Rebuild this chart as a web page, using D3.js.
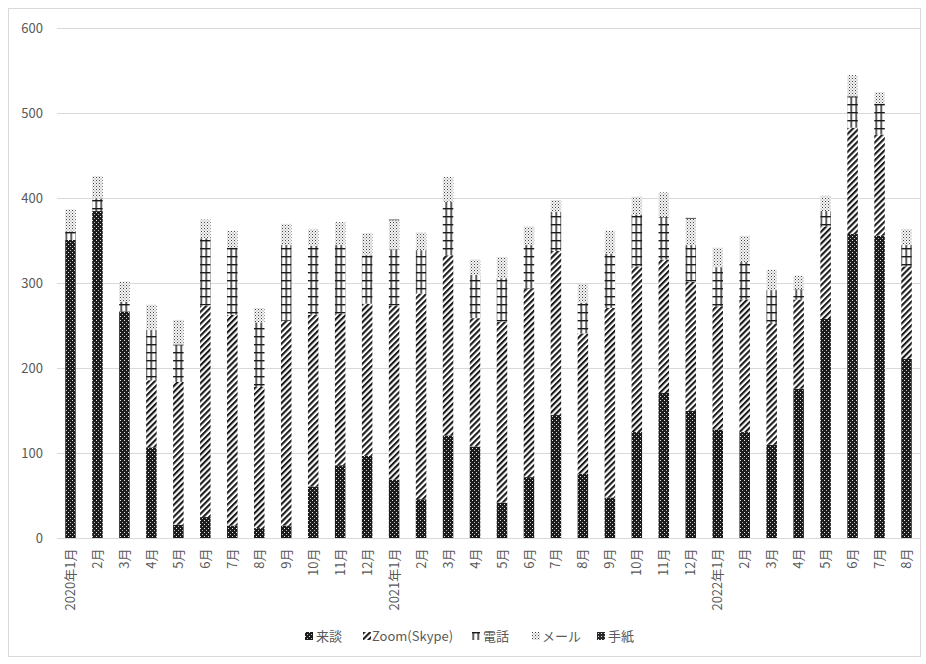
<!DOCTYPE html>
<html><head><meta charset="utf-8">
<script src="https://cdn.jsdelivr.net/npm/d3@7"></script>
<style>
body{margin:0;background:#fff;}
text{font-family:"Noto Sans CJK JP","Noto Sans",sans-serif;}
</style></head>
<body><svg id="chart" width="926" height="664"></svg>
<script>
const months = ["2020年1月","2月","3月","4月","5月","6月","7月","8月","9月","10月","11月","12月",
 "2021年1月","2月","3月","4月","5月","6月","7月","8月","9月","10月","11月","12月",
 "2022年1月","2月","3月","4月","5月","6月","7月","8月"];
const seriesNames = ["来談","Zoom(Skype)","電話","メール","手紙"];
const raidan = [351,385,267,107,16,25,15,12,15,61,86,97,69,46,121,108,42,72,145,76,48,125,171,150,128,125,110,176,258,358,356,211];
const zoomV  = [0,0,0,79,168,249,248,166,241,202,178,179,205,242,212,151,213,222,193,165,223,195,157,152,145,156,143,105,109,125,119,109];
const phone  = [10,15,11,59,44,79,79,76,89,81,81,57,66,51,63,51,51,51,46,36,64,61,50,43,46,44,39,12,18,37,36,25];
const mail   = [26,26,24,30,29,22,20,17,25,20,27,26,34,21,29,18,25,22,14,22,27,21,29,31,23,31,24,16,18,25,14,19];
const letter = [0,0,0,0,0,0,0,0,0,0,0,0,1,0,0,0,0,0,0,0,0,0,0,1,0,0,0,0,0,0,0,0];
const yTicks = [0,100,200,300,400,500,600];

const rows = months.map((m,i)=>({key:i,label:m,"来談":raidan[i],"Zoom(Skype)":zoomV[i],"電話":phone[i],"メール":mail[i],"手紙":letter[i]}));

const svg = d3.select("#chart");
const defs = svg.append("defs");
// patterns
const p0 = defs.append("pattern").attr("id","p0").attr("patternUnits","userSpaceOnUse").attr("width",4).attr("height",4);
p0.append("rect").attr("width",4).attr("height",4).attr("fill","#1c1c1c");
p0.append("rect").attr("x",0).attr("y",0).attr("width",1).attr("height",1).attr("fill","#e8e8e8");
p0.append("rect").attr("x",2).attr("y",2).attr("width",1).attr("height",1).attr("fill","#bdbdbd");
const p1 = defs.append("pattern").attr("id","p1").attr("patternUnits","userSpaceOnUse").attr("width",4.2).attr("height",4.2).attr("patternTransform","rotate(45)");
p1.append("rect").attr("width",4.2).attr("height",4.2).attr("fill","#fff");
p1.append("rect").attr("width",2.1).attr("height",4.2).attr("fill","#1a1a1a");
const p2 = defs.append("pattern").attr("id","p2").attr("patternUnits","userSpaceOnUse").attr("width",5).attr("height",8).attr("x",0.5);
p2.append("rect").attr("width",5).attr("height",8).attr("fill","#fff");
p2.append("rect").attr("width",1.4).attr("height",8).attr("fill","#1a1a1a");
p2.append("rect").attr("width",5).attr("height",1.4).attr("fill","#1a1a1a");
const p3 = defs.append("pattern").attr("id","p3").attr("patternUnits","userSpaceOnUse").attr("width",3).attr("height",3);
p3.append("rect").attr("width",3).attr("height",3).attr("fill","#f4f4f4");
p3.append("rect").attr("x",0).attr("y",0).attr("width",1).attr("height",1).attr("fill","#444");
p3.append("rect").attr("x",1.5).attr("y",1.5).attr("width",1).attr("height",1).attr("fill","#888");
const p4 = defs.append("pattern").attr("id","p4").attr("patternUnits","userSpaceOnUse").attr("width",3).attr("height",3);
p4.append("rect").attr("width",3).attr("height",3).attr("fill","#2a2a2a");
p4.append("rect").attr("x",1).attr("y",1).attr("width",1).attr("height",1).attr("fill","#ddd");
const fills = ["url(#p0)","url(#p1)","url(#p2)","url(#p3)","url(#p4)"];

// border
svg.append("rect").attr("x",8.5).attr("y",8.5).attr("width",912).attr("height",648)
  .attr("fill","#fff").attr("stroke","#d9d9d9");

const x = d3.scaleBand().domain(d3.range(months.length)).range([57,920]).paddingInner(0.61).paddingOuter(0.305);
const y = d3.scaleLinear().domain([0,600]).range([538.3,28.3]);

// gridlines
svg.append("g").selectAll("line").data(yTicks).join("line")
  .attr("x1",57).attr("x2",920).attr("y1",d=>Math.round(y(d))+0.5).attr("y2",d=>Math.round(y(d))+0.5)
  .attr("stroke","#d9d9d9").attr("stroke-width",1);

// y axis labels
const yAxis = d3.axisLeft(y).tickValues(yTicks).tickSize(0).tickPadding(0);
const ya = svg.append("g").attr("transform","translate(43,0)").call(yAxis);
ya.select(".domain").remove();
ya.selectAll("text").attr("fill","#595959").attr("font-size","13px");

// stacked bars
const stack = d3.stack().keys(seriesNames);
const layers = stack(rows);
svg.append("g").selectAll("g").data(layers).join("g")
  .attr("fill",(d,i)=>fills[i])
  .selectAll("rect").data(d=>d).join("rect")
  .attr("x",(d,i)=>x(i)).attr("width",x.bandwidth())
  .attr("y",d=>y(d[1])).attr("height",d=>Math.max(0,y(d[0])-y(d[1])));

// x axis
const xAxis = d3.axisBottom(x).tickSize(0).tickFormat(i=>months[i]);
const xa = svg.append("g").attr("transform",`translate(0,${Math.round(y(0))+0.5})`).call(xAxis);
xa.select(".domain").attr("stroke","#d9d9d9").attr("d","M57,0H920");
xa.selectAll("text").attr("fill","#595959").attr("font-size","13px")
  .attr("transform","rotate(-90)").attr("text-anchor","end")
  .attr("x",-10).attr("y",0).attr("dy","0.35em");

// legend
const legX = [305,363,472,532,597];
const leg = svg.append("g").selectAll("g").data(seriesNames).join("g")
  .attr("transform",(d,i)=>`translate(${legX[i]},632)`);
leg.append("rect").attr("width",8).attr("height",8).attr("fill",(d,i)=>fills[i]);
leg.append("text").attr("x",(d,i)=>i===1?9:i===3?10:11).attr("y",4.5).attr("dy","0.35em")
  .attr("fill","#595959").attr("font-size","13px").text(d=>d);
</script></body></html>
